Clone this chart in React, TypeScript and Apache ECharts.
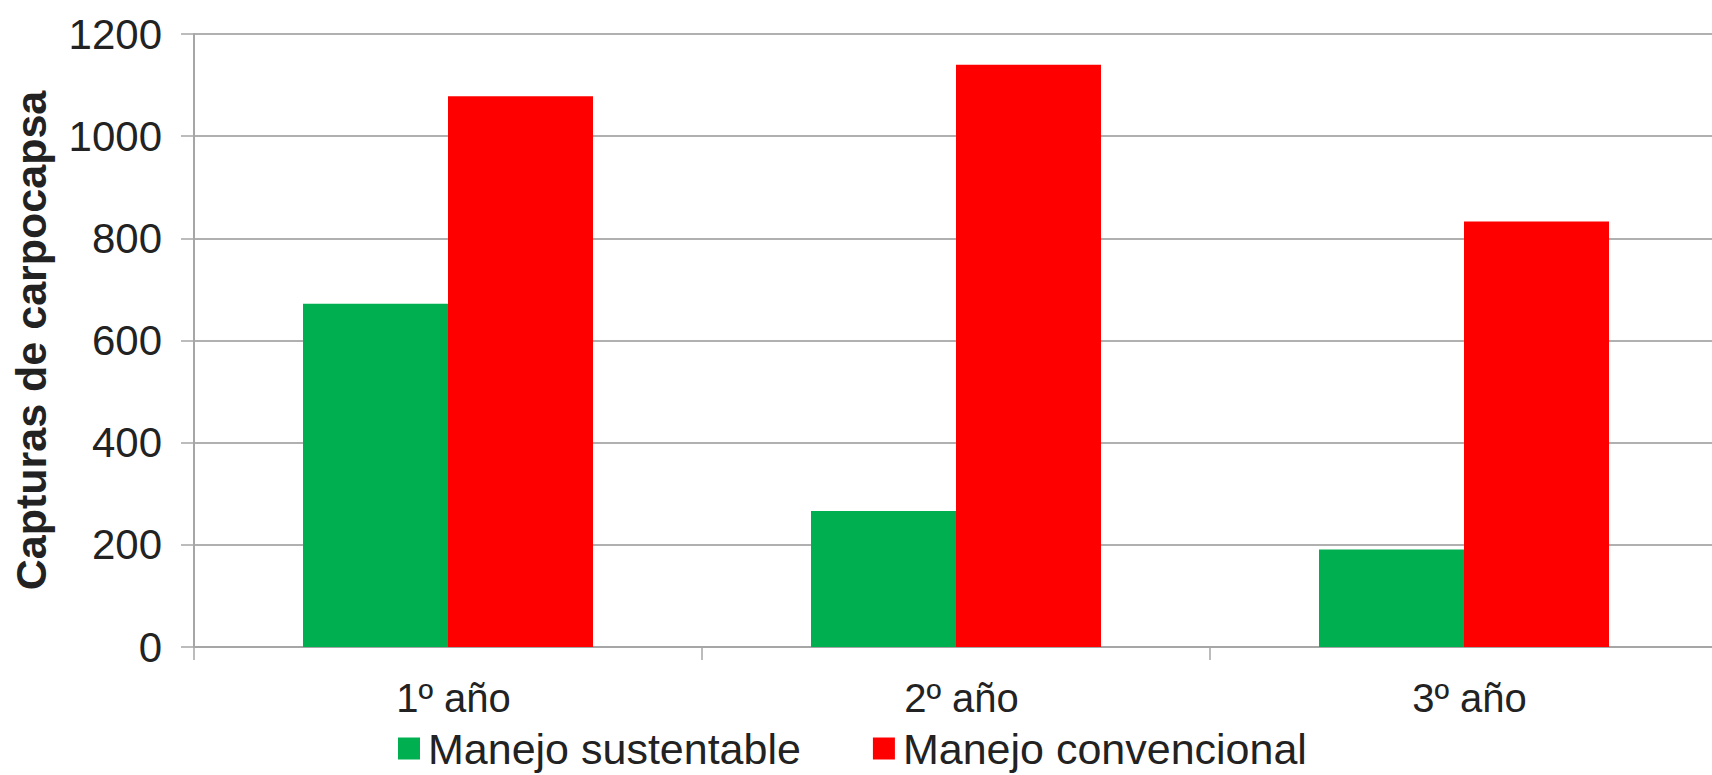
import React, { useEffect, useRef } from "react";
import * as echarts from "echarts";

const categories = ["1º año", "2º año", "3º año"];
const sustentable = [672, 266, 191];
const convencional = [1078, 1140, 833];
const seriesNames = ["Manejo sustentable", "Manejo convencional"];
const yTitle = "Capturas de carpocapsa";

export default function App() {
  const ref = useRef<HTMLDivElement>(null);
  useEffect(() => {
    if (!ref.current) return;
    const chart = echarts.init(ref.current, undefined, { renderer: "svg" });
    const font = "'Liberation Sans', Arial, sans-serif";
    const textColor = "#222222";
    chart.setOption({
      animation: false,
      backgroundColor: "#ffffff",
      grid: {
        left: 194,
        right: -6,
        top: 34,
        bottom: 128,
        containLabel: false,
        outerBoundsMode: "none",
      },
      legend: {
        data: seriesNames,
        left: 398,
        top: 727,
        padding: 0,
        itemWidth: 22,
        itemHeight: 22,
        itemGap: 72,
        icon: "rect",
        textStyle: {
          fontFamily: font,
          fontSize: 43,
          lineHeight: 43,
          color: textColor,
          padding: [0, 0, 0, 3],
        },
      },
      xAxis: {
        type: "category",
        data: categories,
        axisLine: { lineStyle: { color: "#a6a6a6", width: 2 } },
        axisTick: { show: true, length: 13, lineStyle: { color: "#a6a6a6", width: 1.5 } },
        axisLabel: {
          fontFamily: font,
          fontSize: 40,
          color: textColor,
          margin: 31,
          padding: [0, 0, 0, 11],
        },
      },
      yAxis: {
        type: "value",
        min: 0,
        max: 1200,
        interval: 200,
        name: yTitle,
        nameLocation: "middle",
        nameGap: 142,
        nameRotate: 90,
        nameTextStyle: { fontFamily: font, fontSize: 43, fontWeight: "bold", color: textColor },
        axisLine: { show: true, lineStyle: { color: "#a6a6a6", width: 2 } },
        axisTick: { show: true, length: 13, lineStyle: { color: "#a6a6a6", width: 1.5 } },
        splitLine: { lineStyle: { color: "#b0b0b0", width: 2 } },
        axisLabel: {
          fontFamily: font,
          fontSize: 42,
          color: textColor,
          margin: 32,
          formatter: (v: number) => String(v),
        },
      },
      series: [
        {
          name: seriesNames[0],
          type: "bar",
          data: sustentable,
          barWidth: 145,
          barGap: "0%",
          itemStyle: { color: "#00b050" },
        },
        {
          name: seriesNames[1],
          type: "bar",
          data: convencional,
          barWidth: 145,
          barGap: "0%",
          itemStyle: { color: "#ff0000" },
        },
      ],
    });
    return () => chart.dispose();
  }, []);
  return (
    <div
      ref={ref}
      style={{ position: "absolute", left: 0, top: 0, width: 1712, height: 775 }}
    />
  );
}
